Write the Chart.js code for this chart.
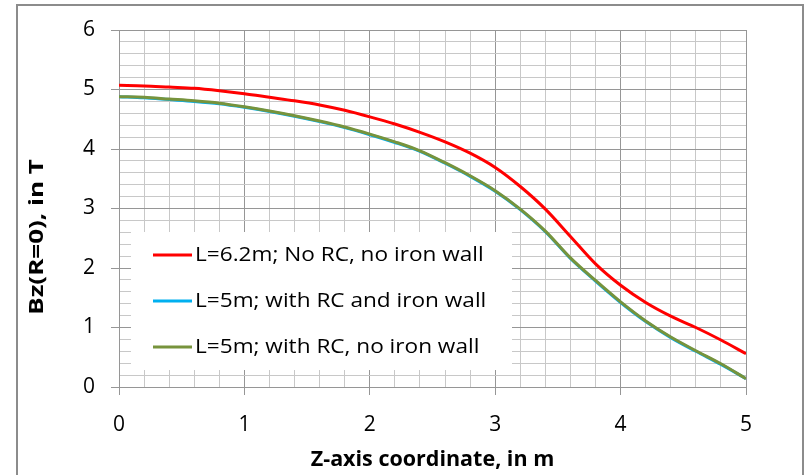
<!DOCTYPE html>
<html>
<head>
<meta charset="utf-8">
<title>Bz(R=0) along Z axis</title>
<script src="https://cdn.jsdelivr.net/npm/chart.js@4.4.1/dist/chart.umd.min.js"></script>
<style>
    html, body { margin: 0; padding: 0; background: #ffffff; }
    #chartWrap { width: 808px; height: 475px; position: relative; }
</style>
</head>
<body>
<div id="chartWrap"><canvas id="bzChart"></canvas></div>
<script>
// --- Data ---
const zCoord = [0, 0.2, 0.4, 0.6, 0.8, 1.0, 1.2, 1.4, 1.6, 1.8, 2.0, 2.2, 2.4,
                2.6, 2.8, 3.0, 3.2, 3.4, 3.6, 3.8, 4.0, 4.2, 4.4, 4.6, 4.8, 5.0];

const bzNoRcNoWall = [5.07, 5.06, 5.04, 5.02, 4.98, 4.93, 4.87, 4.81, 4.74, 4.65, 4.54, 4.42, 4.28,
                      4.12, 3.93, 3.69, 3.37, 2.99, 2.53, 2.07, 1.71, 1.42, 1.19, 1.00, 0.79, 0.56];
const bzRcIronWall = [4.88, 4.86, 4.83, 4.80, 4.76, 4.70, 4.63, 4.55, 4.46, 4.36, 4.24, 4.11, 3.96,
                      3.76, 3.54, 3.29, 2.98, 2.61, 2.16, 1.78, 1.42, 1.10, 0.83, 0.60, 0.38, 0.14];
const bzRcNoWall   = [4.88, 4.87, 4.84, 4.81, 4.77, 4.71, 4.64, 4.56, 4.47, 4.37, 4.25, 4.12, 3.97,
                      3.77, 3.55, 3.30, 2.99, 2.62, 2.17, 1.79, 1.43, 1.11, 0.84, 0.61, 0.39, 0.14];

const seriesLabels = [
    'L=6.2m; No RC, no iron wall',
    'L=5m; with RC and iron wall',
    'L=5m; with RC, no iron wall'
];
const seriesColors = ['#ff0000', '#00b0f0', '#77933c'];

const xTitle = 'Z-axis coordinate, in m';
const yTitle = 'Bz(R=0), in T';

const FONT = "'Open Sans', 'Liberation Sans', sans-serif";

// helper: is a tick value on a whole number (major grid line)?
function isMajor(v) {
    return Math.abs(v - Math.round(v)) < 1e-6;
}

function toPoints(values) {
    return zCoord.map((z, i) => ({ x: z, y: values[i] }));
}

/**
 * White page + grey frame around the whole chart, like the Excel chart area.
 */
const framePlugin = {
    id: 'frame',
    beforeDraw(chart) {
        const ctx = chart.ctx;
        ctx.save();
        ctx.fillStyle = '#ffffff';
        ctx.fillRect(0, 0, chart.width, chart.height);
        ctx.strokeStyle = '#8c8c8c';
        ctx.lineWidth = 2;
        ctx.strokeRect(17, 5, 786, 490);
        ctx.restore();
    }
};

/**
 * The y axis title; the original is drawn a bit stretched and sits lower
 * than the plot centre, so it is placed by hand here.
 */
const yTitlePlugin = {
    id: 'yTitle',
    afterDraw(chart) {
        const ctx = chart.ctx;
        ctx.save();
        ctx.translate(37, 237);
        ctx.rotate(-Math.PI / 2);
        ctx.scale(1.3, 1);
        ctx.font = 'bold 20px ' + FONT;
        ctx.fillStyle = '#000000';
        ctx.textAlign = 'center';
        ctx.textBaseline = 'middle';
        ctx.fillText(yTitle, 0, 0);
        ctx.restore();
    }
};

/**
 * Legend sitting inside the plot, lower left, on a white box.
 */
const insideLegendPlugin = {
    id: 'insideLegend',
    afterDatasetsDraw(chart) {
        const ctx = chart.ctx;
        const area = chart.chartArea;
        const boxLeft = area.left + 12;
        const boxTop = area.top + 202;
        const boxWidth = 381;
        const boxHeight = 138;

        ctx.save();
        ctx.fillStyle = '#ffffff';
        ctx.fillRect(boxLeft, boxTop, boxWidth, boxHeight);

        chart.data.datasets.forEach((ds, i) => {
            const y = boxTop + 23 + i * 46;
            ctx.strokeStyle = ds.borderColor;
            ctx.lineWidth = 3;
            ctx.beginPath();
            ctx.moveTo(boxLeft + 22, y);
            ctx.lineTo(boxLeft + 61, y);
            ctx.stroke();

            ctx.save();
            ctx.translate(boxLeft + 64, y);
            ctx.scale(1.13, 1);
            ctx.font = '20px ' + FONT;
            ctx.textBaseline = 'middle';
            ctx.textAlign = 'left';
            ctx.fillStyle = '#000000';
            ctx.fillText(ds.label, 0, 0);
            ctx.restore();
        });
        ctx.restore();
    }
};

function buildDatasets() {
    const sets = [bzNoRcNoWall, bzRcIronWall, bzRcNoWall];
    // red on top, green over blue
    const drawOrder = [0, 2, 1];
    return sets.map((values, i) => ({
        label: seriesLabels[i],
        data: toPoints(values),
        borderColor: seriesColors[i],
        backgroundColor: seriesColors[i],
        borderWidth: 3,
        pointRadius: 0,
        cubicInterpolationMode: 'monotone',
        fill: false,
        order: drawOrder[i]
    }));
}

function gridColor(ctx) {
    const v = ctx.tick ? ctx.tick.value : 0;
    return isMajor(v) ? '#969696' : '#c8c8c8';
}

function tickColor(ctx) {
    const v = ctx.tick ? ctx.tick.value : 0;
    return isMajor(v) ? '#969696' : 'rgba(0,0,0,0)';
}

function renderChart() {
    const ctx = document.getElementById('bzChart').getContext('2d');

    new Chart(ctx, {
        type: 'line',
        data: { datasets: buildDatasets() },
        plugins: [framePlugin, insideLegendPlugin, yTitlePlugin],
        options: {
            responsive: true,
            maintainAspectRatio: false,
            animation: false,
            layout: { padding: { top: 30, right: 62, bottom: 0, left: 0 } },
            plugins: {
                legend: { display: false },
                tooltip: { enabled: false }
            },
            scales: {
                x: {
                    type: 'linear',
                    min: 0,
                    max: 5,
                    afterFit: scale => { scale.height = 88; },
                    ticks: {
                        stepSize: 0.2,
                        autoSkip: false,
                        maxRotation: 0,
                        padding: 17,
                        color: '#000000',
                        font: { family: FONT, size: 21 },
                        callback: v => isMajor(v) ? String(Math.round(v)) : ''
                    },
                    grid: { color: gridColor, tickColor: tickColor, tickLength: 8, lineWidth: 1 },
                    border: { color: '#969696', width: 1 },
                    title: {
                        display: true,
                        text: xTitle,
                        color: '#000000',
                        font: { family: FONT, size: 21.5, weight: 'bold' },
                        padding: { top: 0, bottom: 2 }
                    }
                },
                y: {
                    type: 'linear',
                    min: 0,
                    max: 6,
                    afterFit: scale => { scale.width = 119; },
                    ticks: {
                        stepSize: 0.2,
                        autoSkip: false,
                        padding: 16,
                        color: '#000000',
                        font: { family: FONT, size: 21 },
                        callback: v => isMajor(v) ? String(Math.round(v)) : ''
                    },
                    grid: { color: gridColor, tickColor: tickColor, tickLength: 8, lineWidth: 1 },
                    border: { color: '#969696', width: 1 },
                    title: { display: false }
                }
            }
        }
    });
}

document.addEventListener('DOMContentLoaded', renderChart);
</script>
</body>
</html>
